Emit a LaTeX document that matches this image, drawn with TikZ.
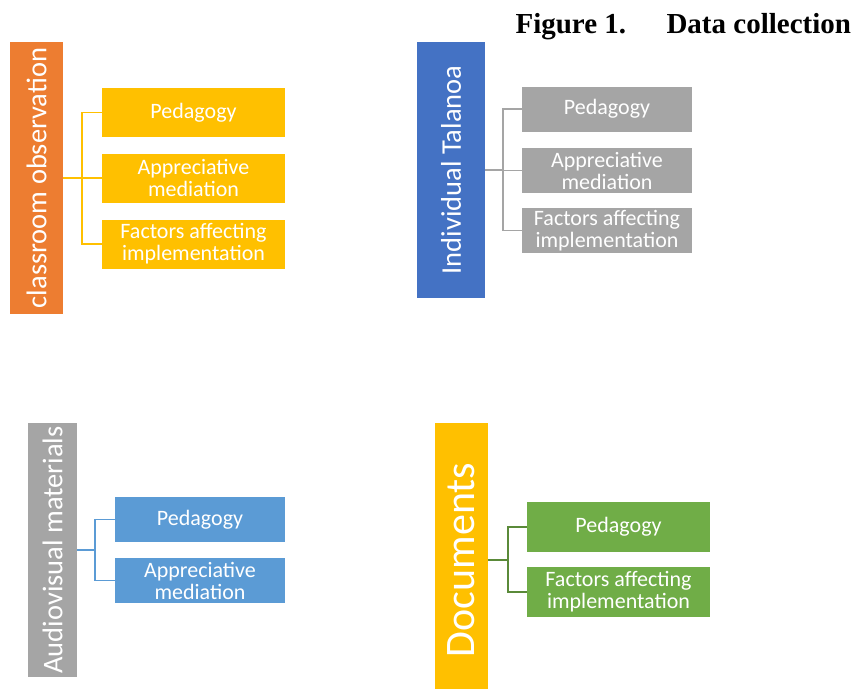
\documentclass[tikz,border=0pt]{standalone}
\usepackage{fontspec}
\setmainfont{Carlito}
\newfontfamily\titlefont{Liberation Serif}
\definecolor{barOrange}{HTML}{ED7D31}
\definecolor{boxYellow}{HTML}{FFC000}
\definecolor{barBlue}{HTML}{4472C4}
\definecolor{boxGray}{HTML}{A5A5A5}
\definecolor{boxBlue}{HTML}{5B9BD5}
\definecolor{boxGreen}{HTML}{70AD47}
\begin{document}
\begin{tikzpicture}[x=1pt,y=-1pt,
    bar/.style={fill=#1,text=white,rotate=90,inner sep=0pt,font=\fontsize{28.5}{30}\selectfont},
    box/.style={fill=#1,text=white,inner sep=0pt,align=center,font=\fontsize{22}{22}\selectfont},
    link/.style={draw=#1,line width=1.4pt}]
    \useasboundingbox (0,0) rectangle (853,688);
    % title
    \node[anchor=base west,font=\titlefont\bfseries\fontsize{29}{30}\selectfont] (fig) at (512,33) {Figure 1.};
    \node[anchor=base west,font=\titlefont\bfseries\fontsize{29}{30}\selectfont] (cap) at (663,33) {Data collection};
    % classroom observation
    \node[bar=barOrange,minimum width=272,minimum height=53] (obs) at (36.5,178) {classroom observation};
    \node[box=boxYellow,minimum width=183,minimum height=49] (obs1) at (193.5,112.5) {Pedagogy};
    \node[box=boxYellow,minimum width=183,minimum height=49] (obs2) at (193.5,178) {Appreciative\\mediation};
    \node[box=boxYellow,minimum width=183,minimum height=49] (obs3) at (193.5,244) {Factors affecting\\implementation};
    \coordinate (j1) at (82,178);
    \draw[link=boxYellow] (obs.south) -- (j1);
    \foreach \b in {obs1,obs2,obs3} \draw[link=boxYellow] (j1) |- (\b.west);
    % individual talanoa
    \node[bar=barBlue,minimum width=256,minimum height=68] (tal) at (451,170) {Individual Talanoa};
    \node[box=boxGray,minimum width=170,minimum height=45] (tal1) at (607,109) {Pedagogy};
    \node[box=boxGray,minimum width=170,minimum height=45] (tal2) at (607,170.5) {Appreciative\\mediation};
    \node[box=boxGray,minimum width=170,minimum height=45] (tal3) at (607,230.5) {Factors affecting\\implementation};
    \coordinate (j2) at (503,170);
    \draw[link=boxGray] (tal.south) -- (j2);
    \foreach \b in {tal1,tal2,tal3} \draw[link=boxGray] (j2) |- (\b.west);
    % audiovisual materials
    \node[bar=boxGray,minimum width=254,minimum height=49] (av) at (52.5,550) {Audiovisual materials};
    \node[box=boxBlue,minimum width=170,minimum height=45] (av1) at (200,519.5) {Pedagogy};
    \node[box=boxBlue,minimum width=170,minimum height=45] (av2) at (200,580.5) {Appreciative\\mediation};
    \coordinate (j3) at (95,550);
    \draw[link=boxBlue] (av.south) -- (j3);
    \foreach \b in {av1,av2} \draw[link=boxBlue] (j3) |- (\b.west);
    % documents
    \node[bar=boxYellow,minimum width=274,minimum height=53,font=\fontsize{42}{44}\selectfont] (doc) at (461.5,560) {Documents};
    \node[box=boxGreen,minimum width=183,minimum height=50] (doc1) at (618.5,527) {Pedagogy};
    \node[box=boxGreen,minimum width=183,minimum height=50] (doc2) at (618.5,592) {Factors affecting\\implementation};
    \coordinate (j4) at (508,560);
    \draw[link=boxGreen!80!black] (doc.south) -- (j4);
    \foreach \b in {doc1,doc2} \draw[link=boxGreen!80!black] (j4) |- (\b.west);
\end{tikzpicture}
\end{document}
